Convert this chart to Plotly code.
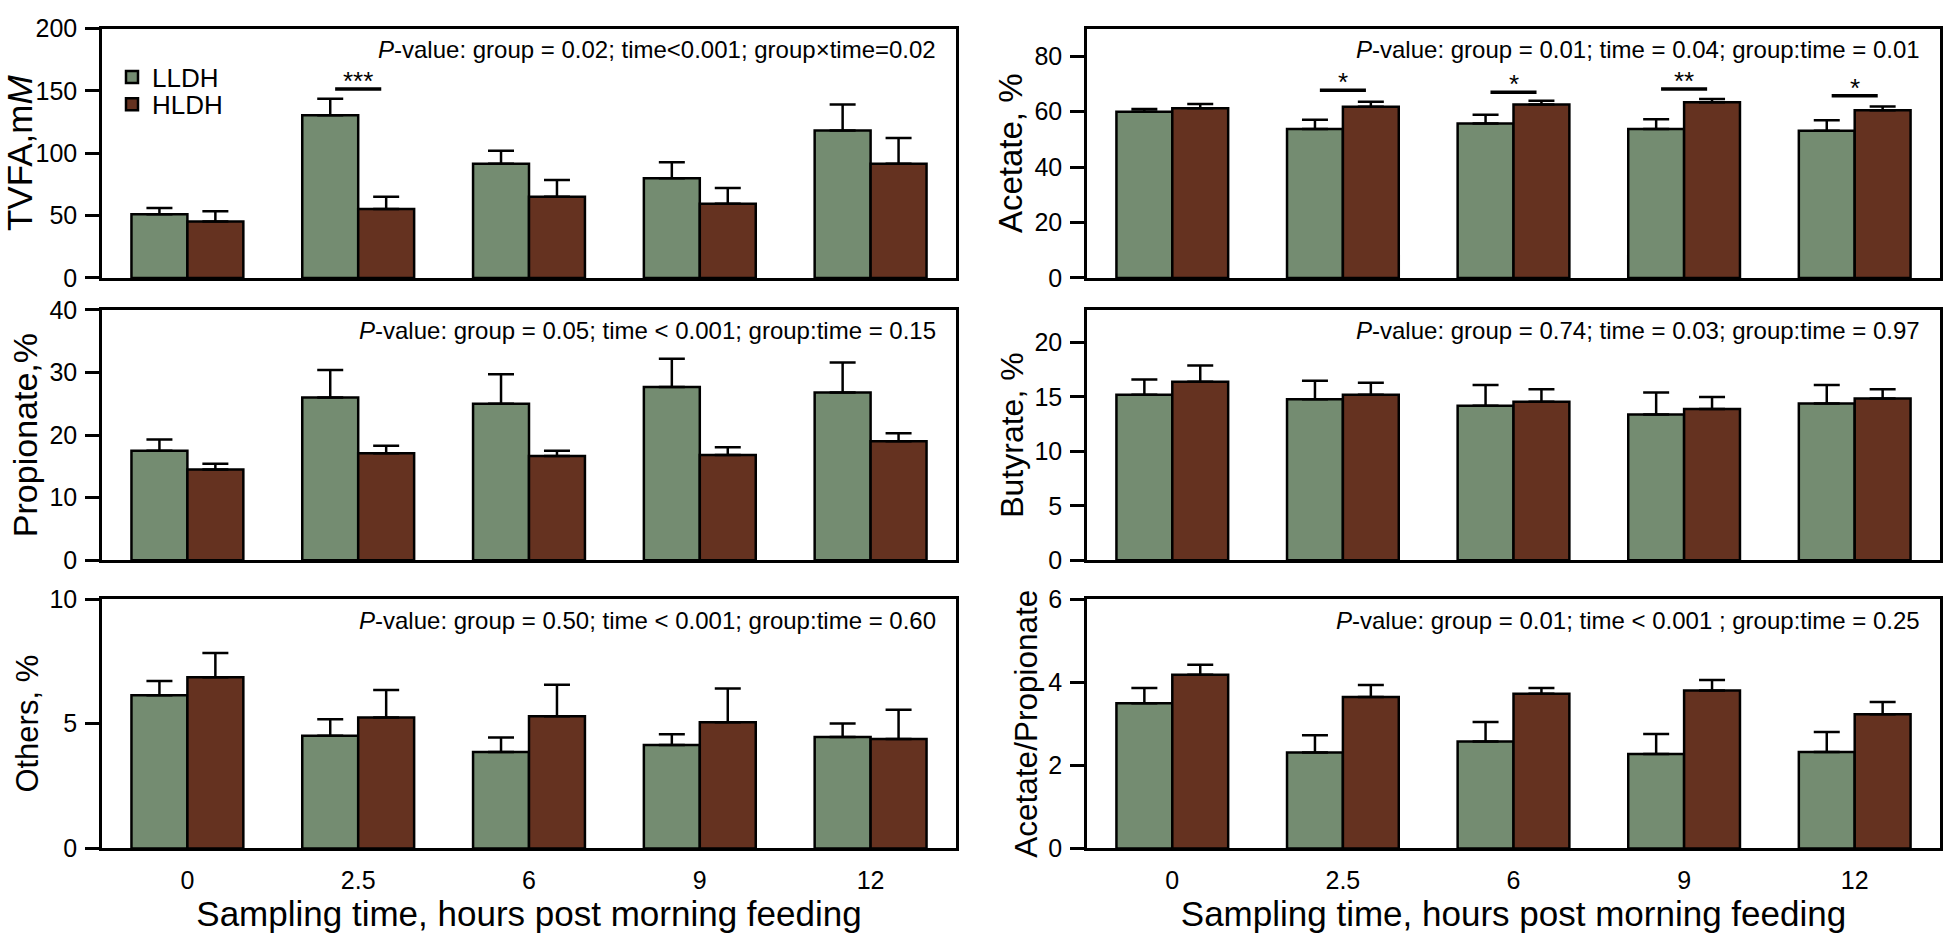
import plotly.graph_objects as go

times = ["0", "2.5", "6", "9", "12"]

tvfa_lldh = [51.0, 130.5, 91.6, 79.9, 118.3]
tvfa_lldh_se = [5.0, 13.2, 10.4, 12.9, 20.7]
tvfa_hldh = [45.3, 55.3, 65.1, 59.4, 91.6]
tvfa_hldh_se = [8.2, 9.8, 13.5, 12.7, 20.7]

acetate_lldh = [60.0, 53.7, 55.7, 53.7, 53.1]
acetate_lldh_se = [1.0, 3.4, 3.2, 3.6, 3.8]
acetate_hldh = [61.2, 61.8, 62.6, 63.4, 60.5]
acetate_hldh_se = [1.6, 1.8, 1.3, 1.2, 1.4]

propionate_lldh = [17.5, 26.0, 25.0, 27.7, 26.8]
propionate_lldh_se = [1.8, 4.4, 4.7, 4.5, 4.8]
propionate_hldh = [14.5, 17.1, 16.65, 16.8, 19.0]
propionate_hldh_se = [0.9, 1.2, 0.85, 1.25, 1.3]

butyrate_lldh = [15.2, 14.8, 14.2, 13.4, 14.4]
butyrate_lldh_se = [1.4, 1.7, 1.9, 2.0, 1.7]
butyrate_hldh = [16.4, 15.2, 14.55, 13.9, 14.85]
butyrate_hldh_se = [1.5, 1.1, 1.15, 1.1, 0.85]

others_lldh = [6.14, 4.52, 3.87, 4.15, 4.47]
others_lldh_se = [0.57, 0.66, 0.58, 0.43, 0.54]
others_hldh = [6.86, 5.25, 5.30, 5.06, 4.39]
others_hldh_se = [0.98, 1.10, 1.26, 1.35, 1.17]

ap_lldh = [3.49, 2.31, 2.57, 2.27, 2.32]
ap_lldh_se = [0.37, 0.41, 0.47, 0.48, 0.48]
ap_hldh = [4.18, 3.64, 3.72, 3.80, 3.23]
ap_hldh_se = [0.24, 0.29, 0.14, 0.25, 0.29]

# significance marks: (category index, line height, label)
tvfa_sig = [(1, 151.5, "***")]
acetate_sig = [(1, 67.7, "*"), (2, 67.0, "*"), (3, 68.2, "**"), (4, 65.7, "*")]

pvalue_texts = [
    "<i>P</i>-value: group = 0.02; time<0.001; group×time=0.02",
    "<i>P</i>-value: group = 0.01; time = 0.04; group:time = 0.01",
    "<i>P</i>-value: group = 0.05; time < 0.001; group:time = 0.15",
    "<i>P</i>-value: group = 0.74; time = 0.03; group:time = 0.97",
    "<i>P</i>-value: group = 0.50; time < 0.001; group:time = 0.60",
    "<i>P</i>-value: group = 0.01; time < 0.001 ; group:time = 0.25",
]
y_titles = ["TVFA,m<i>M</i>", "Acetate, %", "Propionate,%", "Butyrate, %", "Others, %", "Acetate/Propionate"]
y_title_sizes = [35, 33, 34, 32, 31, 31.5]
y_ranges = [[0, 200], [0, 90], [0, 40], [0, 23], [0, 10], [0, 6]]
y_dticks = [50, 20, 10, 5, 5, 2]
x_title = "Sampling time, hours post morning feeding"

panels = [
    (tvfa_lldh, tvfa_lldh_se, tvfa_hldh, tvfa_hldh_se, tvfa_sig),
    (acetate_lldh, acetate_lldh_se, acetate_hldh, acetate_hldh_se, acetate_sig),
    (propionate_lldh, propionate_lldh_se, propionate_hldh, propionate_hldh_se, []),
    (butyrate_lldh, butyrate_lldh_se, butyrate_hldh, butyrate_hldh_se, []),
    (others_lldh, others_lldh_se, others_hldh, others_hldh_se, []),
    (ap_lldh, ap_lldh_se, ap_hldh, ap_hldh_se, []),
]

GREEN = "#748C71"
BROWN = "#653220"
FONT = "Liberation Sans, Arial, sans-serif"

W, H = 1950, 940
x_doms = [[102 / W, 956 / W], [1087 / W, 1940 / W]]
y_doms = [[1 - 272 / H, 1 - 15 / H], [1 - 563 / H, 1 - 305 / H], [1 - 860 / H, 1 - 603 / H]]

fig = go.Figure()
layout = {}
annotations = []
shapes = []

for k, (l_vals, l_se, h_vals, h_se, sig) in enumerate(panels):
    row, col = divmod(k, 2)
    n = k + 1
    xa = "x" if n == 1 else f"x{n}"
    ya = "y" if n == 1 else f"y{n}"
    xkey = "xaxis" if n == 1 else f"xaxis{n}"
    ykey = "yaxis" if n == 1 else f"yaxis{n}"
    for name, vals, se, color, leg in (("LLDH", l_vals, l_se, GREEN, "legend"),
                                       ("HLDH", h_vals, h_se, BROWN, "legend2")):
        fig.add_trace(go.Bar(
            x=times, y=vals, name=name, xaxis=xa, yaxis=ya,
            marker=dict(color=color, line=dict(color="black", width=2.5)),
            error_y=dict(type="data", array=se, arrayminus=[0] * len(se), symmetric=False,
                         color="black", thickness=2.5, width=13),
            showlegend=(k == 0), legendgroup=name, offsetgroup=name, legend=leg,
        ))
    bottom = row == 2
    layout[xkey] = dict(
        domain=x_doms[col], anchor=ya, type="category", categoryorder="array", categoryarray=times,
        showline=True, linecolor="black", linewidth=2.5, mirror=True, ticks="",
        showticklabels=bottom, ticklabelstandoff=8,
        tickfont=dict(size=25, color="black", family=FONT),
        title=dict(text=x_title, font=dict(size=35, color="black", family=FONT), standoff=6) if bottom else None,
        showgrid=False, zeroline=False,
    )
    layout[ykey] = dict(
        domain=y_doms[row], anchor=xa, range=y_ranges[k], dtick=y_dticks[k], tick0=0,
        showline=True, linecolor="black", linewidth=2.5, mirror=True,
        ticks="outside", ticklen=14, tickwidth=2.5, tickcolor="black", ticklabelstandoff=3,
        tickfont=dict(size=25, color="black", family=FONT),
        title=dict(text=y_titles[k], font=dict(size=y_title_sizes[k], color="black", family=FONT), standoff=2),
        showgrid=False, zeroline=False,
    )
    annotations.append(dict(
        text=pvalue_texts[k], xref=f"{xa} domain", yref=f"{ya} domain",
        x=1, y=1, xanchor="right", yanchor="middle", xshift=-18, yshift=-21,
        showarrow=False, font=dict(size=24, color="black", family=FONT),
    ))
    for idx, yline, lab in sig:
        shapes.append(dict(type="line", xref=xa, yref=ya, x0=idx - 0.135, x1=idx + 0.135,
                           y0=yline, y1=yline, line=dict(color="black", width=3.5)))
        annotations.append(dict(text=lab, xref=xa, yref=ya, x=idx, y=yline, xanchor="center",
                                yanchor="bottom", yshift=-9, showarrow=False,
                                font=dict(size=26, color="black", family=FONT)))

legend_common = dict(xanchor="left", yanchor="middle", bgcolor="rgba(0,0,0,0)",
                     font=dict(size=26, color="black", family=FONT), itemwidth=30)

fig.update_layout(
    **layout,
    width=W, height=H,
    margin=dict(l=0, r=0, t=0, b=0),
    paper_bgcolor="white", plot_bgcolor="white",
    barmode="group", bargap=0.345, bargroupgap=0,
    font=dict(family=FONT, color="black"),
    annotations=annotations, shapes=shapes,
    legend=dict(x=112 / W, y=1 - 65 / H, **legend_common),
    legend2=dict(x=112 / W, y=1 - 93 / H, **legend_common),
)

fig.write_html("out.html")
